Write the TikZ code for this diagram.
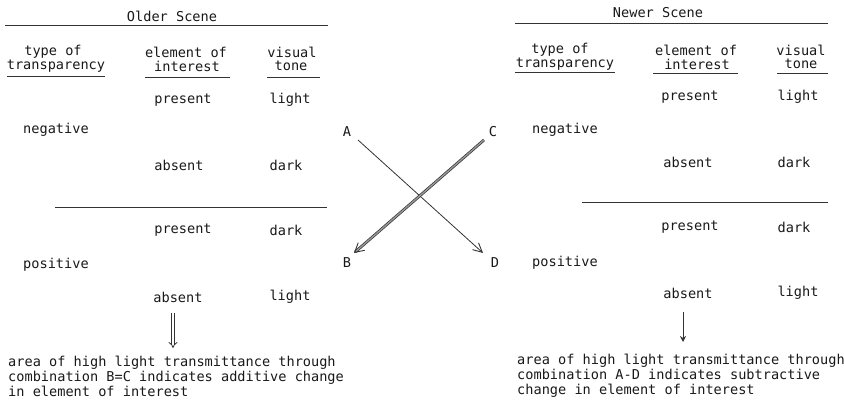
\documentclass[tikz,border=0pt]{standalone}
\usepackage{fontspec}
\newfontfamily\mono{DejaVu Sans Mono}
\usetikzlibrary{arrows.meta}
\begin{document}
\begin{tikzpicture}[x=1pt,y=-1pt,
  txt/.style={font=\mono\fontsize{13.6}{15}\selectfont, inner sep=0pt, text=black!90},
  note/.style={txt, anchor=north west, align=left},
  rule/.style={line width=0.9pt, black!80},
  thin arrow/.style={line width=0.8pt, black!80, -{Straight Barb[length=9pt,width=9pt,line width=0.9pt]}},
  dbl arrow/.style={double=black!40, double distance=1.4pt, line width=0.7pt, black!80, -{Straight Barb[length=9pt,width=10pt,line width=0.9pt]}},
  dbl down/.style={double=white, double distance=2.2pt, line width=0.8pt, black!80, -{Implies[length=7pt]}},
  down arrow/.style={line width=0.8pt, black!80, -{Stealth[length=6pt,width=6pt]}}]
\useasboundingbox (0,0) rectangle (844,401);
% ---------- Older Scene ----------
\node[txt] (ot) at (172,16) {Older Scene};
\coordinate (otl) at (5,25); \coordinate (otr) at (328,25);
\draw[rule] (otl) -- (otr);
\node[txt] (o1a) at (53,52) {type of};
\node[txt] (o1b) at (56,66) {transparency};
\node[txt] (o2a) at (186,52) {element of};
\node[txt] (o2b) at (187,66) {interest};
\node[txt] (o3a) at (292,52) {visual};
\node[txt] (o3b) at (291,66) {tone};
\coordinate (ou1a) at (7,76);   \coordinate (ou1b) at (105,76);
\coordinate (ou2a) at (145,77); \coordinate (ou2b) at (230,77);
\coordinate (ou3a) at (267,77); \coordinate (ou3b) at (320,77);
\draw[rule] (ou1a) -- (ou1b);
\draw[rule] (ou2a) -- (ou2b);
\draw[rule] (ou3a) -- (ou3b);
\node[txt] (op1) at (183,100) {present};
\node[txt] (ol1) at (290,100) {light};
\node[txt, anchor=west] (oneg) at (23,130) {negative};
\node[txt] (oa1) at (179,165) {absent};
\node[txt] (od1) at (286,165) {dark};
\coordinate (oml) at (55,207); \coordinate (omr) at (327,207);
\draw[rule] (oml) -- (omr);
\node[txt] (op2) at (183,230) {present};
\node[txt] (od2) at (286,230) {dark};
\node[txt, anchor=west] (opos) at (23,265) {positive};
\node[txt] (oa2) at (178,297) {absent};
\node[txt] (ol2) at (290,297) {light};
\node[note] (onote) at (8,356)
  {area of high light transmittance through\\combination B=C indicates additive change\\in element of interest};
\draw[dbl down] ([xshift=-5pt,yshift=-11pt]oa2.south) -- ([xshift=-5pt,yshift=8pt]oa2.south |- onote.north);
% ---------- centre cross ----------
\node[txt] (A) at (347,132) {A};
\node[txt] (B) at (347,263) {B};
\node[txt] (C) at (493,132) {C};
\node[txt] (D) at (495,263) {D};
\draw[thin arrow] ([xshift=11pt,yshift=-8pt]A.center) -- ([xshift=-12pt,yshift=10pt]D.center);
\draw[dbl arrow] ([xshift=-9pt,yshift=-8pt]C.center) -- ([xshift=7pt,yshift=10pt]B.center);
% ---------- Newer Scene ----------
\node[txt] (nt) at (658,13) {Newer Scene};
\coordinate (ntl) at (515,23); \coordinate (ntr) at (828,23);
\draw[rule] (ntl) -- (ntr);
\node[txt] (n1a) at (560,50) {type of};
\node[txt] (n1b) at (565,64) {transparency};
\node[txt] (n2a) at (696,50) {element of};
\node[txt] (n2b) at (697,64) {interest};
\node[txt] (n3a) at (801,50) {visual};
\node[txt] (n3b) at (801,64) {tone};
\coordinate (nu1a) at (515,72); \coordinate (nu1b) at (615,72);
\coordinate (nu2a) at (653,73); \coordinate (nu2b) at (738,73);
\coordinate (nu3a) at (777,73); \coordinate (nu3b) at (828,73);
\draw[rule] (nu1a) -- (nu1b);
\draw[rule] (nu2a) -- (nu2b);
\draw[rule] (nu3a) -- (nu3b);
\node[txt] (np1) at (690,97) {present};
\node[txt] (nl1) at (798,97) {light};
\node[txt, anchor=west] (nneg) at (532,130) {negative};
\node[txt] (na1) at (688,162) {absent};
\node[txt] (nd1) at (794,162) {dark};
\coordinate (nml) at (582,202); \coordinate (nmr) at (828,202);
\draw[rule] (nml) -- (nmr);
\node[txt] (np2) at (690,227) {present};
\node[txt] (nd2) at (794,227) {dark};
\node[txt, anchor=west] (npos) at (532,263) {positive};
\node[txt] (na2) at (688,293) {absent};
\node[txt] (nl2) at (798,293) {light};
\node[note] (nnote) at (517,354)
  {area of high light transmittance through\\combination A-D indicates subtractive\\change in element of interest};
\draw[down arrow] ([xshift=-5pt,yshift=-14pt]na2.south) -- ([xshift=-5pt,yshift=12pt]na2.south |- nnote.north);
\end{tikzpicture}
\end{document}
